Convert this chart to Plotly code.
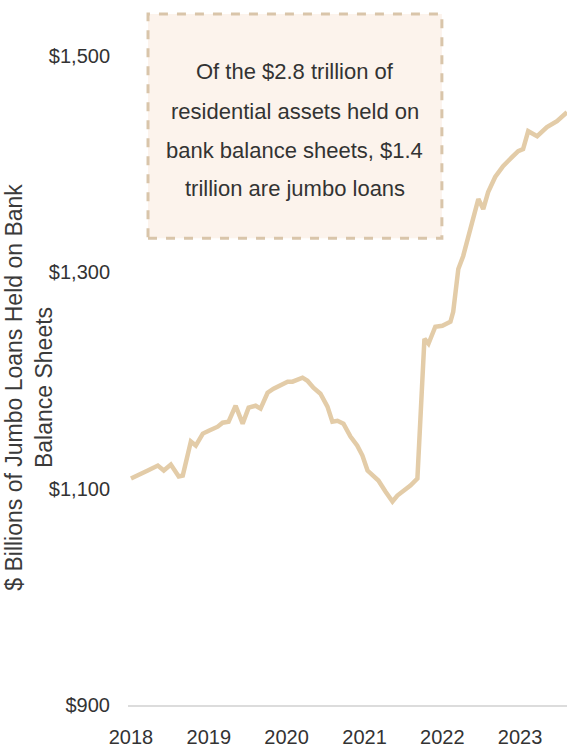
import plotly.graph_objects as go

# Dates and values (billions of dollars)
dates = [
    "2018-01-01", "2018-01-24", "2018-03-21", "2018-05-07", "2018-06-04", "2018-07-07",
    "2018-08-13", "2018-09-01", "2018-10-09", "2018-11-01", "2018-12-04", "2019-01-01",
    "2019-02-12", "2019-03-07", "2019-04-04", "2019-05-07", "2019-06-09", "2019-07-07",
    "2019-08-09", "2019-09-01", "2019-10-04", "2019-11-01", "2019-12-04", "2020-01-06",
    "2020-01-29", "2020-02-21", "2020-03-16", "2020-04-08", "2020-05-06", "2020-06-08",
    "2020-07-11", "2020-08-03", "2020-08-27", "2020-09-24", "2020-10-27", "2020-11-28",
    "2020-12-22", "2021-01-15", "2021-02-12", "2021-03-07", "2021-04-09", "2021-05-12",
    "2021-06-04", "2021-07-02", "2021-08-04", "2021-09-06", "2021-10-09", "2021-10-28",
    "2021-11-29", "2022-01-01", "2022-02-08", "2022-02-21", "2022-03-17", "2022-04-09",
    "2022-05-03", "2022-05-26", "2022-06-19", "2022-07-12", "2022-08-04", "2022-09-06",
    "2022-10-13", "2022-11-24", "2022-12-23", "2023-01-15", "2023-02-08", "2023-03-22",
    "2023-05-07", "2023-06-23", "2023-08-09",
]
jumbo_loans = [
    1109.4, 1111.3, 1116.8, 1121.4, 1116.8, 1122.3,
    1111.3, 1112.2, 1143.6, 1139.9, 1151.0, 1153.7,
    1157.4, 1161.1, 1162.0, 1176.8, 1160.2, 1175.0,
    1176.8, 1174.1, 1188.8, 1192.5, 1195.3, 1199.0,
    1199.0, 1200.8, 1202.7, 1199.9, 1193.4, 1187.9,
    1175.9, 1162.0, 1162.9, 1160.2, 1148.2, 1139.9,
    1130.7, 1116.8, 1112.2, 1107.6, 1097.4, 1088.2,
    1093.7, 1097.4, 1102.9, 1109.4, 1238.7, 1234.1,
    1249.8, 1250.7, 1254.4, 1263.6, 1303.3, 1315.3,
    1333.8, 1352.3, 1368.0, 1358.7, 1374.4, 1388.3,
    1398.4, 1406.7, 1412.3, 1414.1, 1430.7, 1426.1,
    1434.4, 1440.0, 1448.3,
]

year_ticks = ["2018-01-01", "2019-01-01", "2020-01-01", "2021-01-01", "2022-01-01", "2023-01-01"]
year_labels = ["2018", "2019", "2020", "2021", "2022", "2023"]
y_ticks = [900, 1100, 1300, 1500]
y_labels = ["$900", "$1,100", "$1,300", "$1,500"]

y_title = "$ Billions of Jumbo Loans Held on Bank<br>Balance Sheets"
note_lines = [
    "Of the $2.8 trillion of",
    "residential assets held on",
    "bank balance sheets, $1.4",
    "trillion are jumbo loans",
]

FONT = "Liberation Sans, Arial, sans-serif"

fig = go.Figure()
fig.add_trace(go.Scatter(
    x=dates, y=jumbo_loans, mode="lines",
    line=dict(color="#e3cca8", width=4.5),
    hoverinfo="skip", showlegend=False,
))

fig.add_shape(
    type="rect", xref="paper", yref="paper",
    x0=0.0456, x1=0.715, y0=0.662, y1=0.980,
    fillcolor="#fcf3ec", line=dict(color="#d9c5aa", width=3, dash="dash"),
    layer="below",
)
line_ys = [0.898, 0.842, 0.787, 0.733]
for txt, yy in zip(note_lines, line_ys):
    fig.add_annotation(
        xref="paper", yref="paper", x=0.380, y=yy,
        xanchor="center", yanchor="middle",
        text=txt, showarrow=False, align="center",
        font=dict(family=FONT, size=22, color="#333333"),
    )

# Y-axis title (rotated), placed left of the tick labels
fig.add_annotation(
    xref="paper", yref="paper", x=0, y=0.450,
    xanchor="center", yanchor="middle", xshift=-99,
    textangle=-90, text=y_title, showarrow=False, align="center",
    font=dict(family=FONT, size=23, color="#3a3a3a"),
)

fig.update_layout(
    width=567, height=753,
    margin=dict(l=128, r=0, t=0, b=48),
    paper_bgcolor="white", plot_bgcolor="white",
    xaxis=dict(
        range=["2017-12-18", "2023-08-09"],
        tickvals=year_ticks, ticktext=year_labels,
        showgrid=False, zeroline=False, automargin=False,
        showline=True, linecolor="#dcdcdc", linewidth=1.5,
        ticks="", ticklabelstandoff=13,
        tickfont=dict(family=FONT, size=20, color="#333333"),
    ),
    yaxis=dict(
        range=[900, 1552],
        tickvals=y_ticks, ticktext=y_labels,
        showgrid=False, zeroline=False, showline=False, automargin=False,
        ticks="", ticklabelstandoff=17,
        tickfont=dict(family=FONT, size=20, color="#333333"),
    ),
)

fig.write_html("out.html")
